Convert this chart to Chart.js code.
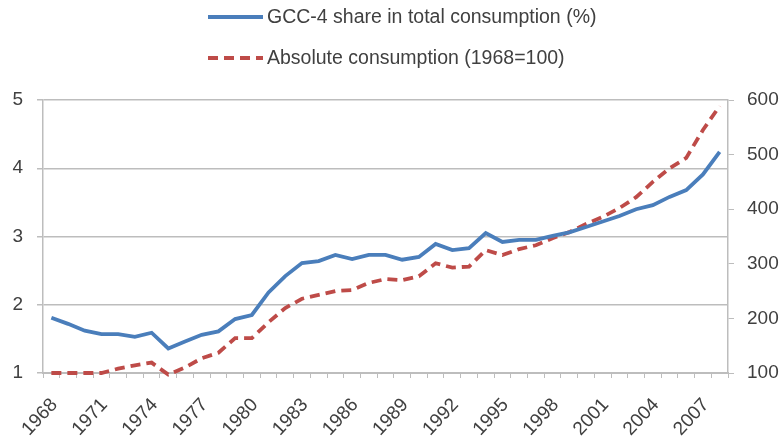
<!DOCTYPE html>
<html>
<head>
<meta charset="utf-8">
<script src="https://cdn.jsdelivr.net/npm/chart.js@4/dist/chart.umd.min.js"></script>
<style>
  html, body { margin: 0; padding: 0; background: #fff; }
  #wrap { width: 783px; height: 445px; position: relative; }
</style>
</head>
<body>
<div id="wrap"><canvas id="chart"></canvas></div>
<script>
// years on the category axis, one point per year
const years = [];
for (let y = 1968; y <= 2008; y++) years.push(String(y));

// GCC-4 share in total consumption (%), left axis
const shareValues = [1.81, 1.72, 1.62, 1.57, 1.57, 1.53, 1.59, 1.36, 1.46, 1.56,
  1.61, 1.79, 1.85, 2.18, 2.42, 2.61, 2.64, 2.73, 2.67, 2.73,
  2.73, 2.66, 2.70, 2.89, 2.80, 2.83, 3.05, 2.92, 2.95, 2.95,
  3.01, 3.06, 3.14, 3.22, 3.30, 3.40, 3.46, 3.58, 3.68, 3.91, 4.24];

// Absolute consumption (1968=100), right axis
const absoluteValues = [100, 100, 100, 100, 108, 114, 119, 97, 110, 127,
  137, 164, 164, 193, 219, 236, 243, 250, 252, 265,
  272, 270, 277, 301, 293, 295, 325, 316, 327, 334,
  347, 358, 373, 386, 402, 422, 450, 475, 494, 545, 589];

const seriesNames = ['GCC-4 share in total consumption (%)', 'Absolute consumption (1968=100)'];

const FONT = "'Liberation Sans', Arial, sans-serif";
const TEXT = '#404040';
const GRID = '#bdbdbd';

// Legend stacked in two rows above the plot (Chart.js would put both on one row)
const rowLegend = {
  id: 'rowLegend',
  afterDraw(chart) {
    const ctx = chart.ctx;
    const rows = [17, 58];
    ctx.save();
    chart.data.datasets.forEach((ds, i) => {
      const y = rows[i];
      ctx.strokeStyle = ds.borderColor;
      ctx.lineWidth = ds.borderWidth;
      ctx.setLineDash(ds.borderDash || []);
      ctx.beginPath();
      ctx.moveTo(208, y);
      ctx.lineTo(263, y);
      ctx.stroke();
      ctx.setLineDash([]);
      ctx.fillStyle = TEXT;
      ctx.font = "19.5px " + FONT;
      ctx.textBaseline = 'middle';
      ctx.textAlign = 'left';
      ctx.fillText(ds.label, 267, y + 1);
    });
    ctx.restore();
  }
};

new Chart(document.getElementById('chart'), {
  type: 'line',
  data: {
    labels: years,
    datasets: [{
      label: seriesNames[0],
      data: shareValues,
      yAxisID: 'y',
      borderColor: '#4a7ebb',
      borderWidth: 3.8,
      pointRadius: 0,
      tension: 0,
      clip: 10
    }, {
      label: seriesNames[1],
      data: absoluteValues,
      yAxisID: 'y1',
      borderColor: '#be4b48',
      borderWidth: 3.8,
      borderDash: [10, 6],
      pointRadius: 0,
      tension: 0,
      clip: 10
    }]
  },
  options: {
    responsive: true,
    maintainAspectRatio: false,
    animation: false,
    layout: { padding: { top: 100, left: 0, right: 0, bottom: 0 } },
    plugins: { legend: { display: false }, tooltip: { enabled: false } },
    scales: {
      x: {
        offset: true,
        grid: { display: true, offset: true, drawOnChartArea: false, drawTicks: true, tickLength: 5, color: GRID },
        border: { color: GRID, width: 2 },
        ticks: {
          autoSkip: false,
          minRotation: 47,
          maxRotation: 47,
          padding: 16,
          labelOffset: 3,
          color: TEXT,
          font: { family: FONT, size: 19 },
          callback: (v, i) => (i % 3 === 0 ? years[i] : '')
        },
        afterFit: (s) => { s.height = 72; }
      },
      y: {
        position: 'left',
        min: 1,
        max: 5,
        grid: { color: GRID, lineWidth: 1.5, tickLength: 6 },
        border: { color: GRID, width: 1.5 },
        ticks: { stepSize: 1, padding: 14, color: TEXT, font: { family: FONT, size: 19 } },
        afterFit: (s) => { s.width = 43; }
      },
      y1: {
        position: 'right',
        min: 100,
        max: 600,
        grid: { drawOnChartArea: false, color: GRID, tickLength: 6 },
        border: { color: GRID, width: 1.5 },
        ticks: { stepSize: 100, padding: 13, color: TEXT, font: { family: FONT, size: 19 } },
        afterFit: (s) => { s.width = 55; }
      }
    }
  },
  plugins: [rowLegend]
});
</script>
</body>
</html>
